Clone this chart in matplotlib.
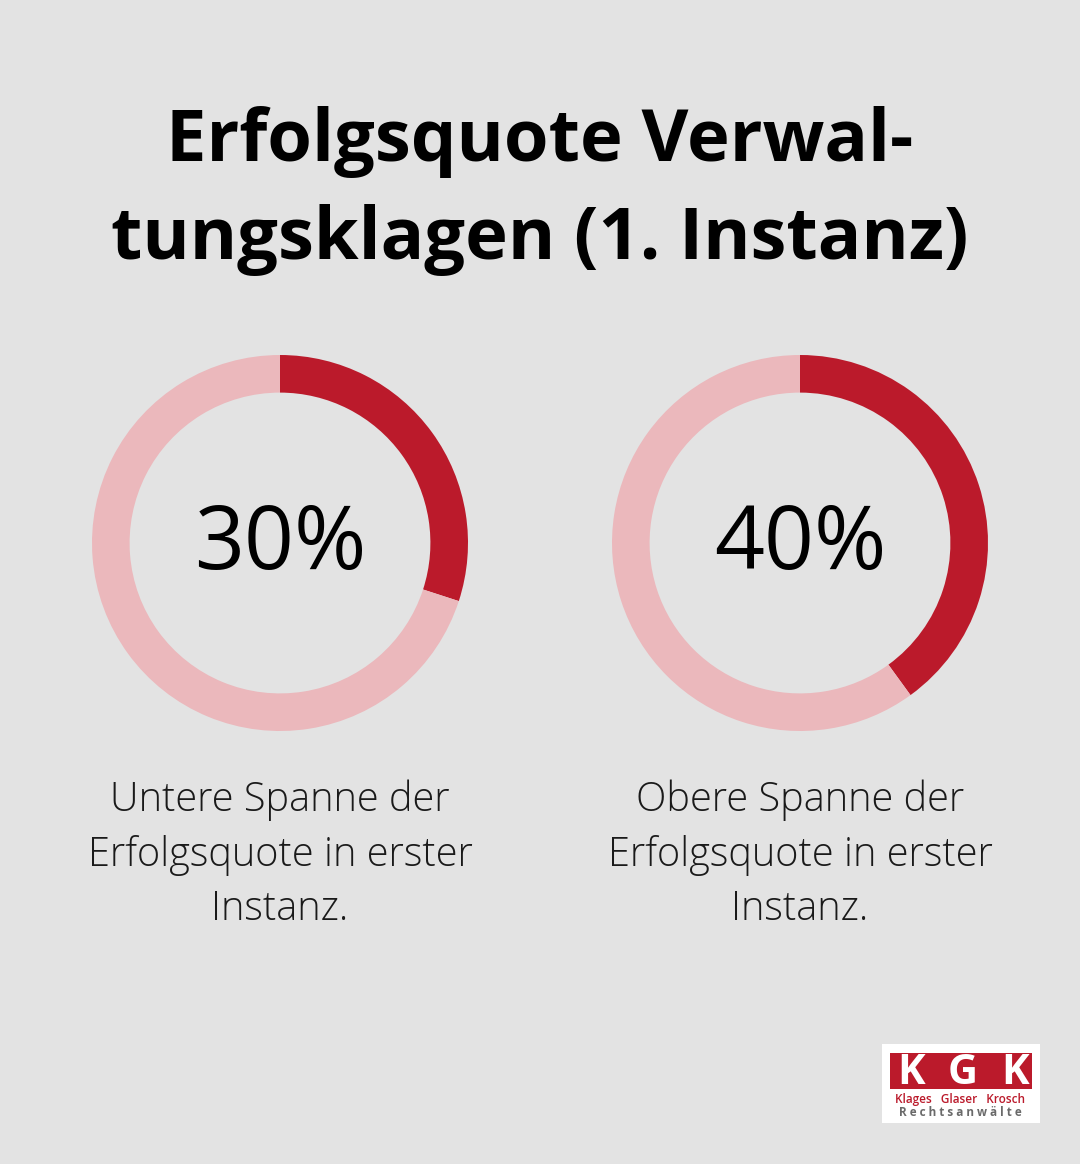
import matplotlib.pyplot as plt
from matplotlib.patches import Rectangle

# data
values = [30, 40]
labels = ["30%", "40%"]
captions = ["Untere Spanne der\nErfolgsquote in erster\nInstanz.",
            "Obere Spanne der\nErfolgsquote in erster\nInstanz."]
title_lines = ["Erfolgsquote Verwal-", "tungsklagen (1. Instanz)"]

bg = "#e3e3e3"
red = "#bb1a2b"
pink = "#ebb8bc"

W, H = 1080, 1164
fig = plt.figure(figsize=(W / 100, H / 100), dpi=100, facecolor=bg)

# full-size axes in pixel coordinates for the texts
base = fig.add_axes([0, 0, 1, 1])
base.set_xlim(0, W)
base.set_ylim(H, 0)
base.axis("off")

for y, line in zip([142, 240], title_lines):
    base.text(540, y, line, ha="center", va="center",
              fontsize=52, fontweight="bold", family="Open Sans", color="black")

centers = [280, 800]
cy, r = 543, 188
for cx, v, lab, cap in zip(centers, values, labels, captions):
    ax = fig.add_axes([(cx - r) / W, 1 - (cy + r) / H, 2 * r / W, 2 * r / H])
    ax.pie([v, 100 - v], colors=[red, pink], startangle=90, counterclock=False,
           radius=1, wedgeprops=dict(width=0.2, linewidth=0))
    ax.set_xlim(-1, 1)
    ax.set_ylim(-1, 1)
    ax.set_aspect("equal")
    ax.axis("off")
    base.text(cx, cy + 3, lab, ha="center", va="center", fontsize=63,
              family="Open Sans", fontweight="medium", color="black")
    base.text(cx, 855, cap, ha="center", va="center", fontsize=28.6,
              family="Open Sans", fontweight="light", color="#1a1a1a",
              linespacing=1.43)

# logo
base.add_patch(Rectangle((882, 1044), 158, 79, facecolor="white", edgecolor="none"))
base.add_patch(Rectangle((890, 1053), 142, 36, facecolor=red, edgecolor="none"))
for x, ch in zip([911, 963, 1015], "KGK"):
    base.text(x, 1073, ch, ha="center", va="center", fontsize=30,
              fontweight="bold", family="Open Sans", color="white")
base.text(960, 1099, "Klages   Glaser   Krosch", ha="center", va="center",
          fontsize=8.5, fontweight="semibold", family="Open Sans", color=red)
base.text(960, 1112, "R e c h t s a n w ä l t e", ha="center", va="center",
          fontsize=8.5, fontweight="bold", family="Open Sans", color="#6a6a6a")

fig.savefig("out.png", dpi=100, facecolor=bg)
